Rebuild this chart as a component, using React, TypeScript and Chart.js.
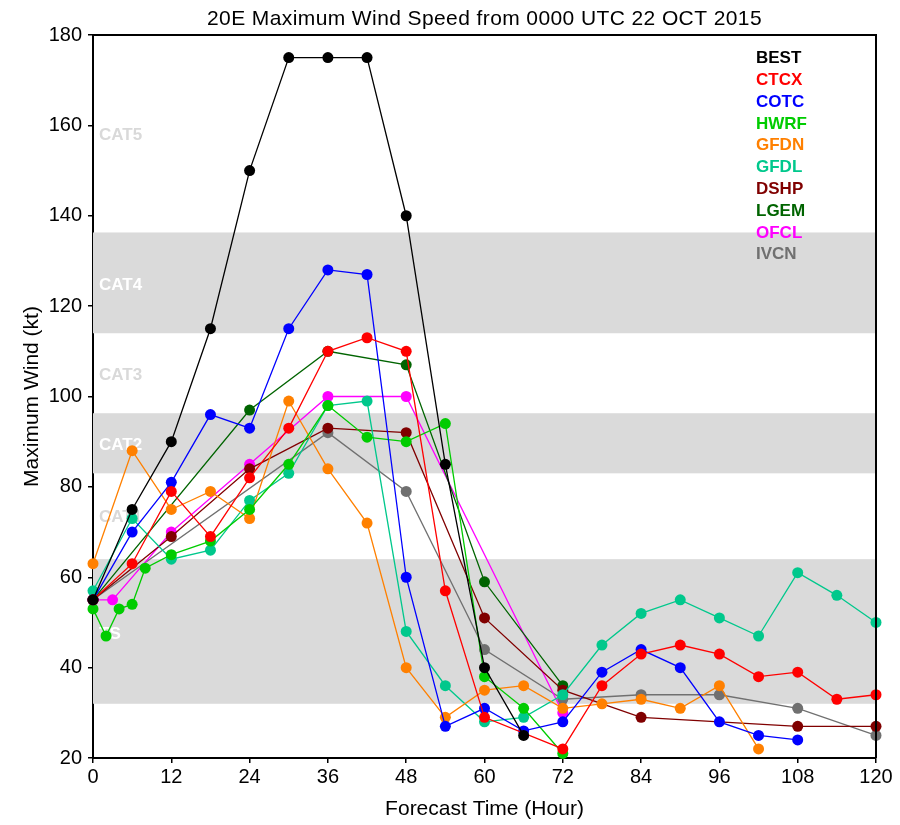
import React, { useEffect, useRef } from 'react';
import { Chart, registerables } from 'chart.js';
Chart.register(...registerables);

const TITLE = '20E Maximum Wind Speed from 0000 UTC 22 OCT 2015';
const X_TITLE = 'Forecast Time (Hour)';
const Y_TITLE = 'Maximum Wind (kt)';

const xTicks = [0, 12, 24, 36, 48, 60, 72, 84, 96, 108, 120];
const yTicks = [20, 40, 60, 80, 100, 120, 140, 160, 180];

// shaded intensity bands (kt)
const bandLow = [32, 83, 114];
const bandHigh = [64, 96.3, 136.3];
const catNames = ['CAT5', 'CAT4', 'CAT3', 'CAT2', 'CAT1', 'TS'];
const catKt = [158, 125, 105, 89.5, 73.5, 47.7];
const catOnBand = [false, true, false, true, false, true];

const bestHours = [0, 6, 12, 18, 24, 30, 36, 42, 48, 54, 60, 66];
const bestWind = [55, 75, 90, 115, 150, 175, 175, 175, 140, 85, 40, 25];

const ctcxHours = [0, 6, 12, 18, 24, 30, 36, 42, 48, 54, 60, 72, 78, 84, 90, 96, 102, 108, 114, 120];
const ctcxWind = [55, 63, 79, 69, 82, 93, 110, 113, 110, 57, 29, 22, 36, 43, 45, 43, 38, 39, 33, 34];

const cotcHours = [0, 6, 12, 18, 24, 30, 36, 42, 48, 54, 60, 66, 72, 78, 84, 90, 96, 102, 108];
const cotcWind = [55, 70, 81, 96, 93, 115, 128, 127, 60, 27, 31, 26, 28, 39, 44, 40, 28, 25, 24];

const hwrfHours = [0, 2, 4, 6, 8, 12, 18, 24, 30, 36, 42, 48, 54, 60, 66, 72];
const hwrfWind = [53, 47, 53, 54, 62, 65, 68, 75, 85, 98, 91, 90, 94, 38, 31, 21];

const gfdnHours = [0, 6, 12, 18, 24, 30, 36, 42, 48, 54, 60, 66, 72, 78, 84, 90, 96, 102];
const gfdnWind = [63, 88, 75, 79, 73, 99, 84, 72, 40, 29, 35, 36, 31, 32, 33, 31, 36, 22];

const gfdlHours = [0, 6, 12, 18, 24, 30, 36, 42, 48, 54, 60, 66, 72, 78, 84, 90, 96, 102, 108, 114, 120];
const gfdlWind = [57, 73, 64, 66, 77, 83, 98, 99, 48, 36, 28, 29, 34, 45, 52, 55, 51, 47, 61, 56, 50];

const dshpHours = [0, 12, 24, 36, 48, 60, 72, 84, 108, 120];
const dshpWind = [55, 69, 84, 93, 92, 51, 35, 29, 27, 27];

const lgemHours = [0, 24, 36, 48, 60, 72];
const lgemWind = [55, 97, 110, 107, 59, 36];

const ofclHours = [0, 3, 12, 24, 36, 48, 72];
const ofclWind = [55, 55, 70, 85, 100, 100, 30];

const ivcnHours = [0, 36, 48, 60, 72, 84, 96, 108, 120];
const ivcnWind = [55, 92, 79, 44, 33, 34, 34, 31, 25];

const seriesNames = ['BEST', 'CTCX', 'COTC', 'HWRF', 'GFDN', 'GFDL', 'DSHP', 'LGEM', 'OFCL', 'IVCN'];
const seriesColors = ['#000000', '#ff0000', '#0000ff', '#00cc00', '#ff8000', '#00c88c', '#800000', '#006400', '#ff00ff', '#707070'];
const seriesHours = [bestHours, ctcxHours, cotcHours, hwrfHours, gfdnHours, gfdlHours, dshpHours, lgemHours, ofclHours, ivcnHours];
const seriesWind = [bestWind, ctcxWind, cotcWind, hwrfWind, gfdnWind, gfdlWind, dshpWind, lgemWind, ofclWind, ivcnWind];

const FONT = '"Liberation Sans", Arial, sans-serif';
const BAND_COLOR = '#dadada';

const decor = {
  id: 'decor',
  beforeDatasetsDraw(chart: any) {
    const { ctx, chartArea, scales } = chart;
    const { left, right } = chartArea;
    const y = scales.y;
    ctx.save();
    ctx.fillStyle = BAND_COLOR;
    for (let i = 0; i < bandLow.length; i++) {
      const y1 = y.getPixelForValue(bandHigh[i]);
      const y2 = y.getPixelForValue(bandLow[i]);
      ctx.fillRect(left, y1, right - left, y2 - y1);
    }
    ctx.font = `bold 17px ${FONT}`;
    ctx.textAlign = 'left';
    ctx.textBaseline = 'alphabetic';
    for (let i = 0; i < catNames.length; i++) {
      ctx.fillStyle = catOnBand[i] ? '#ffffff' : '#d9d9d9';
      ctx.fillText(catNames[i], left + 6, y.getPixelForValue(catKt[i]) + 6);
    }
    ctx.restore();
  },
  afterDatasetsDraw(chart: any) {
    const { ctx, chartArea } = chart;
    const { left, right, top, bottom } = chartArea;
    ctx.save();
    ctx.strokeStyle = '#000';
    ctx.lineWidth = 2;
    ctx.beginPath();
    ctx.moveTo(left, top);
    ctx.lineTo(right, top);
    ctx.lineTo(right, bottom);
    ctx.stroke();
    ctx.fillStyle = '#000';
    ctx.font = `21px ${FONT}`;
    (ctx as any).letterSpacing = '0.4px';
    ctx.textAlign = 'center';
    ctx.textBaseline = 'alphabetic';
    ctx.fillText(TITLE, (left + right) / 2, 25);
    (ctx as any).letterSpacing = '0px';
    ctx.font = `bold 17px ${FONT}`;
    ctx.textAlign = 'left';
    for (let i = 0; i < seriesNames.length; i++) {
      ctx.fillStyle = seriesColors[i];
      ctx.fillText(seriesNames[i], 756, 63.3 + i * 21.78);
    }
    ctx.restore();
  },
};

export default function App() {
  const ref = useRef<HTMLCanvasElement>(null);
  useEffect(() => {
    const datasets = seriesNames.map((name, i) => ({
      label: name,
      data: seriesHours[i].map((h, j) => ({ x: h, y: seriesWind[i][j] })),
      borderColor: seriesColors[i],
      backgroundColor: seriesColors[i],
      borderWidth: 1.3,
      pointRadius: 5.5,
      pointBorderWidth: 0,
      pointHoverRadius: 5.5,
      tension: 0,
      fill: false,
      clip: false as any,
    }));
    const chart = new Chart(ref.current!, {
      type: 'line',
      data: { datasets },
      plugins: [decor],
      options: {
        responsive: false,
        animation: false,
        events: [],
        layout: { padding: { left: 0, right: 24, top: 35, bottom: 0 } },
        plugins: { legend: { display: false }, tooltip: { enabled: false }, title: { display: false } },
        scales: {
          x: {
            type: 'linear',
            min: 0,
            max: 120,
            afterBuildTicks: (s: any) => { s.ticks = xTicks.map((v) => ({ value: v })); },
            afterFit: (s: any) => { s.height = 67; },
            ticks: { color: '#000', font: { family: FONT, size: 20 }, padding: 2, maxRotation: 0, autoSkip: false },
            grid: { drawOnChartArea: false, drawTicks: true, tickLength: 5, tickColor: '#000', lineWidth: 1.5 },
            border: { display: true, color: '#000', width: 2 },
            title: { display: true, text: X_TITLE, color: '#000', font: { family: FONT, size: 21, lineHeight: 1 }, padding: { top: 0, bottom: 5 } },
          },
          y: {
            type: 'linear',
            min: 20,
            max: 180,
            afterBuildTicks: (s: any) => { s.ticks = yTicks.map((v) => ({ value: v })); },
            afterFit: (s: any) => { s.width = 93; },
            ticks: { color: '#000', font: { family: FONT, size: 20 }, padding: 6, autoSkip: false },
            grid: { drawOnChartArea: false, drawTicks: true, tickLength: 5, tickColor: '#000', lineWidth: 1.5 },
            border: { display: true, color: '#000', width: 2 },
            title: { display: true, text: Y_TITLE, color: '#000', font: { family: FONT, size: 21, lineHeight: 1 }, padding: { top: 22, bottom: 0 } },
          },
        },
      },
    });
    return () => chart.destroy();
  }, []);
  return (
    <div style={{ position: 'absolute', left: 0, top: 0, width: 900, height: 825, background: '#fff' }}>
      <canvas ref={ref} width={900} height={825} style={{ display: 'block', width: 900, height: 825 }} />
    </div>
  );
}
